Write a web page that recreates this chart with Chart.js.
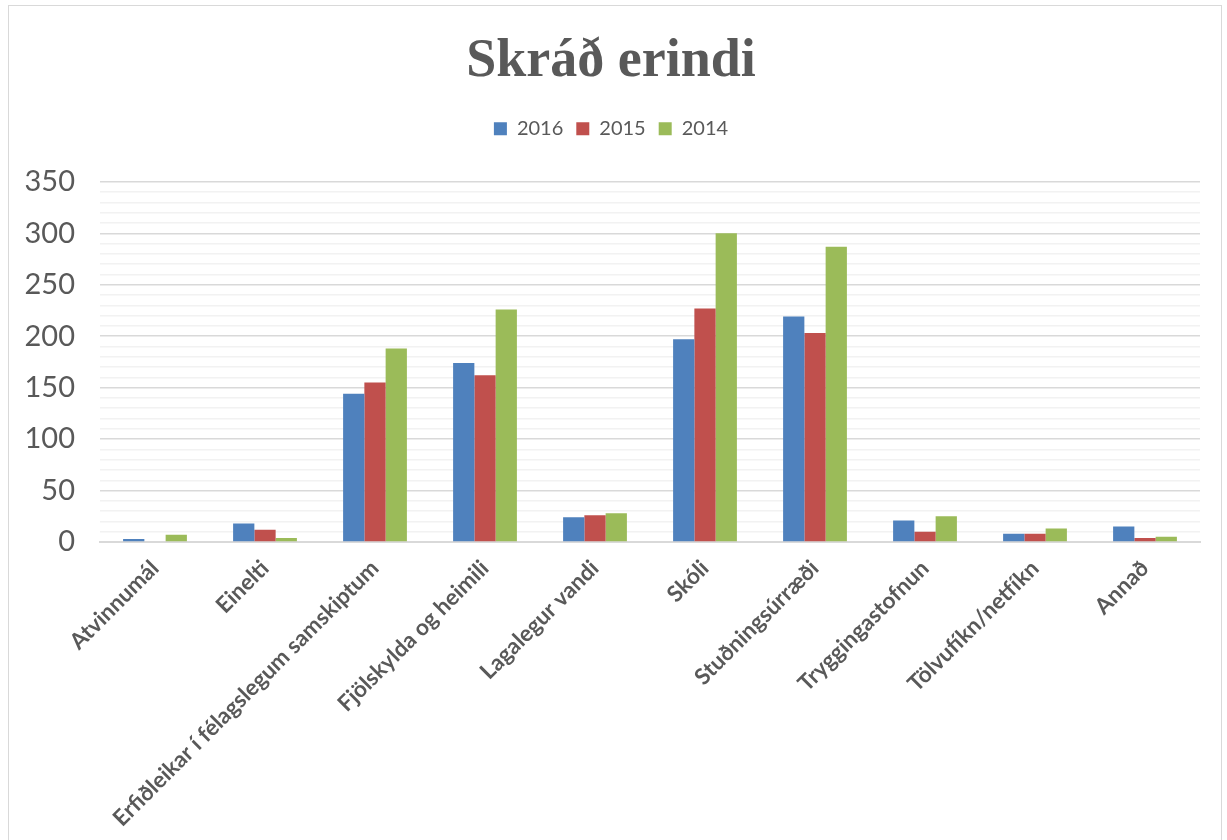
<!DOCTYPE html>
<html>
<head>
<meta charset="utf-8">
<script src="https://cdn.jsdelivr.net/npm/chart.js@4/dist/chart.umd.min.js"></script>
<style>
  html, body { margin: 0; padding: 0; background: #fff; overflow: hidden; }
  .frame { position: absolute; left: 8px; top: 5px; width: 1214px; height: 850px; border: 1px solid #d9d9d9; box-sizing: border-box; }
  #chart { position: absolute; left: 0; top: 0; }
</style>
</head>
<body>
<div class="frame"></div>
<canvas id="chart" width="1227" height="840"></canvas>
<script>
const categories = [
  "Atvinnumál", "Einelti", "Erfiðleikar í félagslegum samskiptum", "Fjölskylda og heimili",
  "Lagalegur vandi", "Skóli", "Stuðningsúrræði", "Tryggingastofnun", "Tölvufíkn/netfíkn", "Annað"
];
const values2016 = [3, 18, 144, 174, 24, 197, 219, 21, 8, 15];
const values2015 = [0, 12, 155, 162, 26, 227, 203, 10, 8, 4];
const values2014 = [7, 4, 188, 226, 28, 300, 287, 25, 13, 5];

const textColor = "#595959";

// push the plot area down a bit below the legend, like the original
const legendGap = {
  id: "legendGap",
  beforeInit(chart) {
    const fit = chart.legend.fit;
    chart.legend.fit = function () {
      fit.bind(chart.legend)();
      this.height += 33;
    };
  },
};

const ctx = document.getElementById("chart").getContext("2d");
new Chart(ctx, {
  type: "bar",
  data: {
    labels: categories,
    datasets: [
      { label: "2016", data: values2016, backgroundColor: "#4f81bd" },
      { label: "2015", data: values2015, backgroundColor: "#c0504d" },
      { label: "2014", data: values2014, backgroundColor: "#9bbb59" },
    ],
  },
  options: {
    responsive: false,
    animation: false,
    layout: { padding: { left: 22, right: 27, top: 22, bottom: 0 } },
    datasets: { bar: { categoryPercentage: 0.58, barPercentage: 1 } },
    scales: {
      x: {
        afterFit: (scale) => { scale.height = 298; },
        grid: { display: false, drawTicks: false },
        border: { color: "#d9d9d9", width: 2 },
        ticks: {
          color: textColor,
          font: { family: "Lato", size: 22.5, weight: "bold" },
          minRotation: 45,
          maxRotation: 45,
          autoSkip: false,
          padding: 13,
        },
      },
      y: {
        min: 0,
        max: 350,
        afterFit: (scale) => { scale.width = 78; },
        border: { display: false },
        grid: {
          drawTicks: false,
          color: (c) => (c.tick && c.tick.value % 50 === 0 ? "#d9d9d9" : "#f2f2f2"),
          lineWidth: 1.5,
        },
        ticks: {
          stepSize: 10,
          autoSkip: false,
          color: textColor,
          padding: 25,
          font: { family: "Lato", size: 29 },
          callback: (v) => (v % 50 === 0 ? v : ""),
        },
      },
    },
    plugins: {
      title: {
        display: true,
        text: "Skráð erindi",
        color: textColor,
        font: { family: "Liberation Serif", size: 54, weight: "bold" },
        padding: { top: 8, bottom: 11 },
      },
      legend: {
        position: "top",
        labels: {
          color: textColor,
          font: { family: "Lato", size: 20 },
          boxWidth: 13,
          boxHeight: 13,
          padding: 13,
        },
      },
      tooltip: { enabled: false },
    },
  },
  plugins: [legendGap],
});
</script>
</body>
</html>
